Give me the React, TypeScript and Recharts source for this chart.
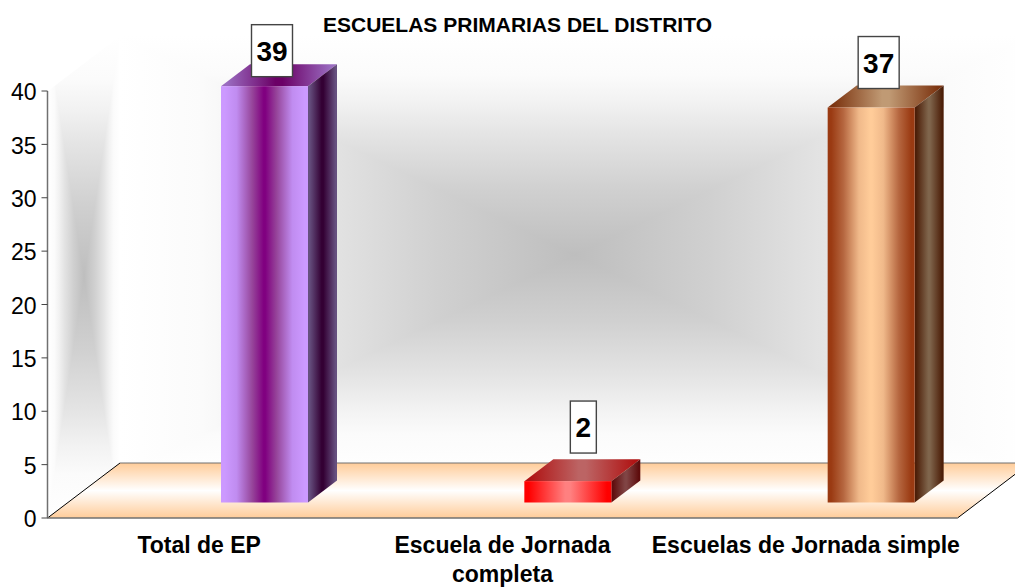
import { Bar, BarChart, LabelList, XAxis, YAxis } from "recharts";

const CATEGORIES = ["Total de EP", "Escuela de Jornada completa", "Escuelas de Jornada simple"];
const CATEGORY_LINES = [["Total de EP"], ["Escuela de Jornada", "completa"], ["Escuelas de Jornada simple"]];
const VALUES = [39, 2, 37];
const Y_TICKS = [0, 5, 10, 15, 20, 25, 30, 35, 40];
const TITLE = "ESCUELAS PRIMARIAS DEL DISTRITO";

const data = CATEGORIES.map((name, i) => ({ name, value: VALUES[i] }));

const FONT = '"Liberation Sans", Arial, sans-serif';
const WIDTH = 1015;
const HEIGHT = 587;

// the bars sit part way into the 3d floor, so the front face is moved off the axis position
const BAR_SHIFT_X = 65.5;
const BAR_SHIFT_Y = -15.5;
const DEPTH_X = 29;
const DEPTH_Y = 22;

// colours per bar, from the edge of each face to its middle
const BAR_COLORS = [
  { front: ["#cc99ff", "#c08cf0", "#96459a", "#800080"], top: ["#9a6cc0", "#6b0066"], side: ["#66507f", "#330033"] },
  { front: ["#ff0000", "#ff8080"], top: ["#b01414", "#bc6464"], side: ["#5e0c0c", "#804444"] },
  { front: ["#9a3a12", "#b5663f", "#f0b98a", "#ffcc99"], top: ["#7c3410", "#c09a74"], side: ["#4c1e08", "#7f654c"] },
];

// manual placement of the value boxes, relative to the plain bar position
const LABEL_NUDGE = [
  { dx: 73, bottom: -25 },
  { dx: 81, bottom: -43.6 },
  { dx: 73, bottom: -34.5 },
];

const WALL_STOPS: [number, string][] = [
  [0, "#ffffff"],
  [0.18, "#fbfbfb"],
  [0.3, "#f2f2f2"],
  [0.45, "#e4e4e4"],
  [0.7, "#d0d0d0"],
  [1, "#bebebe"],
];

function Grad({ id, c }: { id: string; c: string[] }) {
  // two colours: edge and middle; four colours: extra knees at 18% and 36%
  const half: [number, string][] =
    c.length === 2
      ? [[0.05, c[0]], [0.47, c[1]]]
      : [[0.04, c[0]], [0.18, c[1]], [0.36, c[2]], [0.49, c[3]]];
  const stops = [...half, ...half.slice().reverse().map(([o, col]) => [1 - o, col] as [number, string])];
  return (
    <linearGradient id={id} x1="0" y1="0" x2="1" y2="0">
      {stops.map(([o, col], i) => (
        <stop key={i} offset={o} stopColor={col} />
      ))}
    </linearGradient>
  );
}

// rectangular "path" gradient made from four triangles meeting in the centre
function Wall({ id, x0, y0, x1, y1, clip }: { id: string; x0: number; y0: number; x1: number; y1: number; clip?: string }) {
  const cx = (x0 + x1) / 2;
  const cy = (y0 + y1) / 2;
  const parts = [
    { k: "t", g: [0, y0, 0, cy], pts: `${x0},${y0} ${x1},${y0} ${cx},${cy}` },
    { k: "b", g: [0, y1, 0, cy], pts: `${x0},${y1} ${x1},${y1} ${cx},${cy}` },
    { k: "l", g: [x0, 0, cx, 0], pts: `${x0},${y0} ${x0},${y1} ${cx},${cy}` },
    { k: "r", g: [x1, 0, cx, 0], pts: `${x1},${y0} ${x1},${y1} ${cx},${cy}` },
  ];
  return (
    <g clipPath={clip}>
      <defs>
        {parts.map((p) => (
          <linearGradient key={p.k} id={id + p.k} gradientUnits="userSpaceOnUse" x1={p.g[0]} y1={p.g[1]} x2={p.g[2]} y2={p.g[3]}>
            {WALL_STOPS.map(([o, c]) => (
              <stop key={o} offset={o} stopColor={c} />
            ))}
          </linearGradient>
        ))}
      </defs>
      {parts.map((p) => (
        <polygon key={p.k} points={p.pts} fill={`url(#${id + p.k})`} shapeRendering="crispEdges" />
      ))}
    </g>
  );
}

function Backdrop() {
  return (
    <svg width={WIDTH} height={HEIGHT} style={{ position: "absolute", left: 0, top: 0 }}>
      <defs>
        <clipPath id="leftWallClip">
          <polygon points="48,91 120,36 120,463 48,518" />
        </clipPath>
        <linearGradient id="floorFill" x1="0" y1="0" x2="0" y2="1">
          <stop offset="0" stopColor="#ffcc99" />
          <stop offset="0.5" stopColor="#ffffff" />
          <stop offset="1" stopColor="#ffcc99" />
        </linearGradient>
      </defs>
      <Wall id="back" x0={120} y0={36} x1={1030} y1={474} />
      <Wall id="left" x0={48} y0={36} x1={120} y1={518} clip="url(#leftWallClip)" />
      <polygon points="47.5,518 120,463 1030,463 957.5,518" fill="url(#floorFill)" />
      <line x1={120} y1={463} x2={1015} y2={463} stroke="#707070" strokeWidth={1} />
      <line x1={47.5} y1={518} x2={120} y2={463} stroke="#000" strokeWidth={1} />
      <line x1={957.5} y1={518} x2={1030} y2={463} stroke="#000" strokeWidth={1} />
      <text x={517.5} y={32} textAnchor="middle" fontFamily={FONT} fontWeight="bold" fontSize={21} textLength={389} lengthAdjust="spacingAndGlyphs" fill="#000">
        {TITLE}
      </text>
    </svg>
  );
}

function Bar3D(props: any) {
  const { index, width, height } = props;
  const x = props.x + BAR_SHIFT_X;
  const y = props.y + BAR_SHIFT_Y;
  const dx = DEPTH_X;
  const dy = DEPTH_Y;
  return (
    <g>
      <polygon
        points={`${x},${y} ${x + dx},${y - dy} ${x + width + dx},${y - dy} ${x + width},${y}`}
        fill={`url(#bar${index}top)`}
      />
      <polygon
        points={`${x + width},${y} ${x + width + dx},${y - dy} ${x + width + dx},${y + height - dy} ${x + width},${y + height}`}
        fill={`url(#bar${index}side)`}
      />
      <rect x={x} y={y} width={width} height={height} fill={`url(#bar${index}front)`} />
    </g>
  );
}

function ValueBox(props: any) {
  const { x, y, width, value, index } = props;
  const nudge = LABEL_NUDGE[index];
  const text = String(value);
  const boxW = text.length > 1 ? 41 : 26;
  const boxH = 52;
  const cx = x + width / 2 + nudge.dx;
  const bottom = y + nudge.bottom;
  return (
    <g>
      <rect x={cx - boxW / 2} y={bottom - boxH} width={boxW} height={boxH} fill="#fff" stroke="#444" strokeWidth={1.4} />
      <text x={cx} y={bottom - boxH / 2 + 10} textAnchor="middle" fontFamily={FONT} fontWeight="bold" fontSize={28} fill="#000">
        {text}
      </text>
    </g>
  );
}

function CategoryTick(props: any) {
  const { x, y, index } = props;
  return (
    <g>
      {CATEGORY_LINES[index].map((line, i) => (
        <text key={line} x={x} y={y + 27 + i * 29} textAnchor="middle" fontFamily={FONT} fontWeight="bold" fontSize={23} fill="#000">
          {line}
        </text>
      ))}
    </g>
  );
}

export default function App() {
  return (
    <div style={{ position: "absolute", left: 0, top: 0, width: WIDTH, height: HEIGHT, overflow: "hidden", background: "#fff" }}>
      <Backdrop />
      <div style={{ position: "absolute", left: 0, top: 0 }}>
        <BarChart width={WIDTH} height={HEIGHT} data={data} margin={{ top: 91, right: 57.5, bottom: 0, left: 0 }}>
          <defs>
            {BAR_COLORS.map((c, i) => (
              <g key={i}>
                <Grad id={`bar${i}front`} c={c.front} />
                <Grad id={`bar${i}top`} c={c.top} />
                <Grad id={`bar${i}side`} c={c.side} />
              </g>
            ))}
          </defs>
          <XAxis
            dataKey="name"
            height={69}
            interval={0}
            tickLine={false}
            axisLine={{ stroke: "#707070", strokeWidth: 1.5 }}
            tick={<CategoryTick />}
          />
          <YAxis
            width={47.5}
            domain={[0, 40]}
            ticks={Y_TICKS}
            interval={0}
            tickSize={6}
            tickMargin={5}
            axisLine={{ stroke: "#707070", strokeWidth: 1.5 }}
            tickLine={{ stroke: "#444" }}
            tick={{ fontSize: 23, fill: "#000", fontFamily: FONT, dy: 1 }}
          />
          <Bar dataKey="value" barSize={87} isAnimationActive={false} shape={<Bar3D />}>
            <LabelList dataKey="value" content={<ValueBox />} />
          </Bar>
        </BarChart>
      </div>
    </div>
  );
}
